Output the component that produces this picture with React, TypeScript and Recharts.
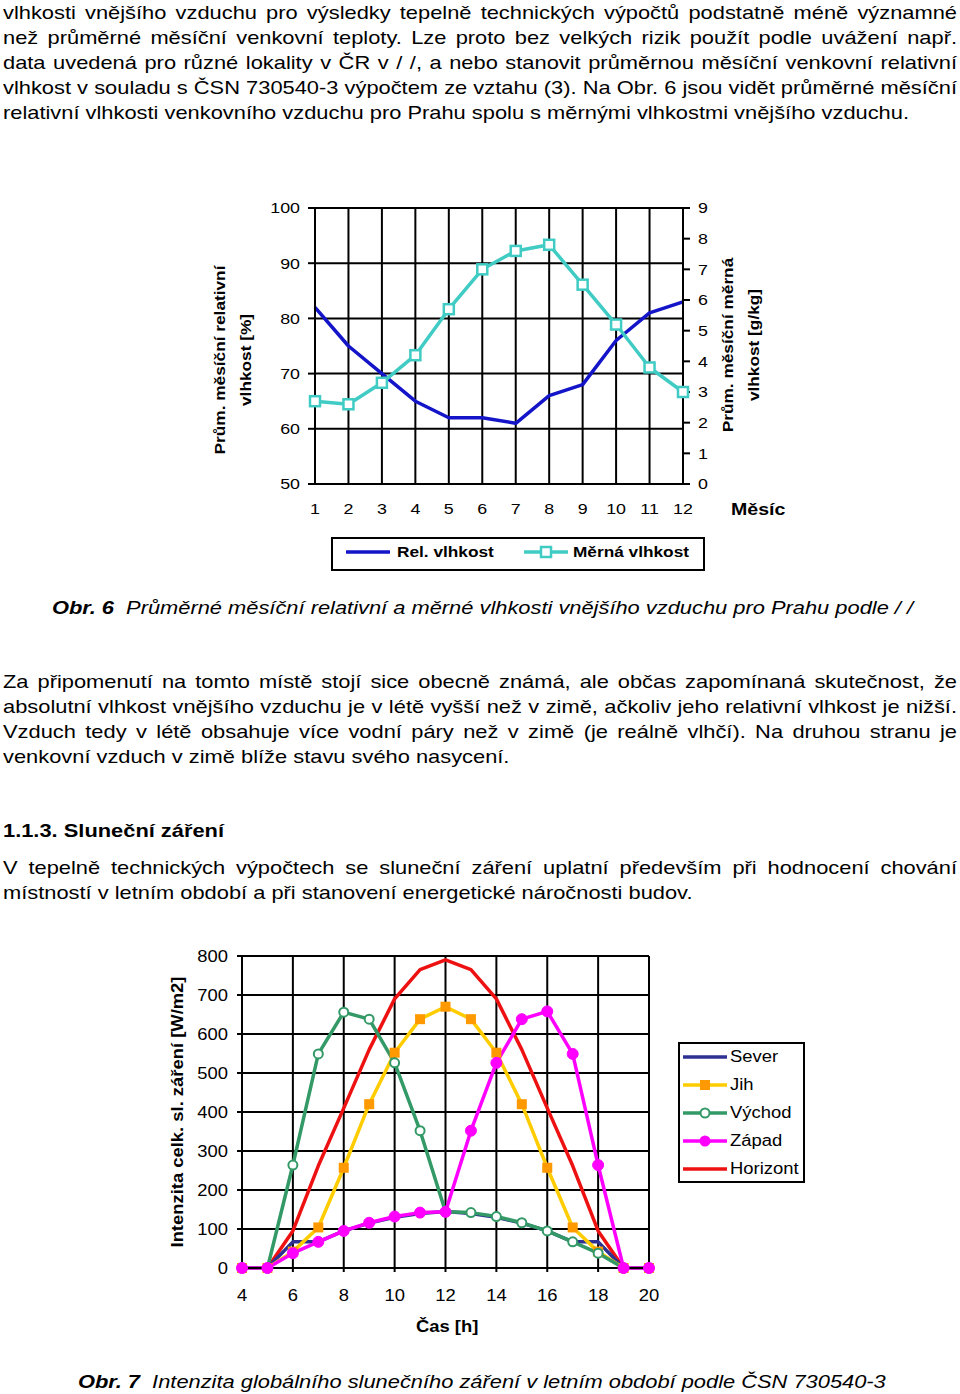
import React from 'react';
import { LineChart, Line, XAxis, YAxis, CartesianGrid } from 'recharts';

const FONT = '"Liberation Sans", Arial, Helvetica, sans-serif';
const S = 1.15; // horizontal stretch of the glyphs seen in the reference

// ---------- Obr. 6 data ----------
const months = [1, 2, 3, 4, 5, 6, 7, 8, 9, 10, 11, 12];
const relHumidity = [82, 75, 70, 65, 62, 62, 61, 66, 68, 76, 81, 83];
const specHumidity = [2.7, 2.6, 3.3, 4.2, 5.7, 7.0, 7.6, 7.8, 6.5, 5.2, 3.8, 3.0];
const relMinorTicks = [50, 52, 54, 56, 58, 60, 62, 64, 66, 68, 70, 72, 74, 76, 78, 80, 82, 84, 86, 88, 90, 92, 94, 96, 98, 100];
const relTicks = [50, 60, 70, 80, 90, 100];
const specTicks = [0, 1, 2, 3, 4, 5, 6, 7, 8, 9];

// ---------- Obr. 7 data ----------
const hours = [4, 5, 6, 7, 8, 9, 10, 11, 12, 13, 14, 15, 16, 17, 18, 19, 20];
const sever = [0, 0, 67, 67, 95, 115, 130, 140, 145, 140, 130, 115, 95, 67, 67, 0, 0];
const jih = [0, 0, 42, 104, 257, 420, 552, 638, 670, 638, 552, 420, 257, 104, 42, 0, 0];
const vychod = [0, 0, 264, 549, 656, 638, 526, 352, 144, 142, 132, 116, 95, 67, 38, 0, 0];
const zapad = [0, 0, 38, 67, 95, 116, 132, 142, 144, 352, 526, 638, 658, 549, 264, 0, 0];
const horizont = [0, 0, 95, 262, 410, 560, 690, 765, 790, 765, 690, 560, 410, 262, 95, 0, 0];
const hourTicks = [4, 6, 8, 10, 12, 14, 16, 18, 20];
const irrTicks = [0, 100, 200, 300, 400, 500, 600, 700, 800];

const topData = months.map((m, i) => ({ month: m, rel: relHumidity[i], spec: specHumidity[i] }));
const bottomData = hours.map((h, i) => ({
  hour: h,
  sever: sever[i],
  jih: jih[i],
  vychod: vychod[i],
  zapad: zapad[i],
  horizont: horizont[i],
}));

const C = {
  rel: '#1414C8',
  spec: '#40CCC4',
  sever: '#2E3192',
  jihLine: '#FFCC00',
  jihMark: '#FF9900',
  vychod: '#339966',
  zapad: '#FF00FF',
  horizont: '#EE1111',
};

// ---------- text helpers ----------
const SText = ({ x, y, anchor = 'middle', size, bold = false, children }: any) => (
  <text
    x={0}
    y={0}
    dy="0.35em"
    transform={`translate(${x},${y}) scale(${S},1)`}
    textAnchor={anchor}
    fontFamily={FONT}
    fontSize={size}
    fontWeight={bold ? 'bold' : 'normal'}
    fill="#000"
  >
    {children}
  </text>
);

// one line of body text; y = baseline
const TLine = ({ y, x = 3, w = 954, justify = false, size = 19, bold = false, italic = false, children }: any) => (
  <div
    style={{
      position: 'absolute',
      left: x,
      top: y - 17.5,
      width: w / S,
      height: 25,
      lineHeight: '25px',
      fontFamily: FONT,
      fontSize: size,
      fontWeight: bold ? 'bold' : 'normal',
      fontStyle: italic ? 'italic' : 'normal',
      textAlign: justify ? 'justify' : 'left',
      textAlignLast: justify ? 'justify' : 'left',
      transform: `scaleX(${S})`,
      transformOrigin: 'left top',
      color: '#000',
      whiteSpace: justify ? 'normal' : 'nowrap',
    } as React.CSSProperties}
  >
    {children}
  </div>
);

// rotated title, centered at (cx, cy)
const VText = ({ cx, cy, size, children }: any) => (
  <div
    style={{
      position: 'absolute',
      left: cx,
      top: cy,
      transform: `translate(-50%,-50%) rotate(-90deg) scaleX(${S})`,
      fontFamily: FONT,
      fontSize: size,
      fontWeight: 'bold',
      whiteSpace: 'nowrap',
      lineHeight: 1,
      color: '#000',
    }}
  >
    {children}
  </div>
);

const HText = ({ x, cy, size, bold = false, children }: any) => (
  <div
    style={{
      position: 'absolute',
      left: x,
      top: cy - size * 0.6,
      fontFamily: FONT,
      fontSize: size,
      fontWeight: bold ? 'bold' : 'normal',
      lineHeight: `${size * 1.15}px`,
      whiteSpace: 'nowrap',
      transform: `scaleX(${S})`,
      transformOrigin: 'left center',
      color: '#000',
    }}
  >
    {children}
  </div>
);

// ---------- ticks ----------
const RelTick = (p: any) => {
  const { x, y, payload } = p;
  return (
    <g>
      <line x1={x - 7} x2={x} y1={y} y2={y} stroke="#000" strokeWidth={2} />
      <SText x={x - 15} y={y} anchor="end" size={15.5}>
        {payload.value}
      </SText>
    </g>
  );
};

const RelMinorTick = (p: any) => (
  <line x1={p.x} x2={p.x + 5} y1={p.y} y2={p.y} stroke="#000" strokeWidth={2} />
);

const SpecTick = (p: any) => (
  <SText x={p.x + 8} y={p.y} anchor="start" size={15.5}>
    {p.payload.value}
  </SText>
);

const MonthTick = (p: any) => (
  <SText x={p.x} y={p.y + 25} size={15.5}>
    {p.payload.value}
  </SText>
);

const HourTick = (p: any) => (
  <SText x={p.x} y={p.y + 23} size={16}>
    {p.payload.value}
  </SText>
);

const IrrTick = (p: any) => (
  <SText x={p.x - 9} y={p.y} anchor="end" size={16}>
    {p.payload.value}
  </SText>
);

const squareDot = (fill: string, stroke: string, size: number, sw: number) => (p: any) => {
  const k = `sq-${p.index}`;
  if (p.cx == null || p.cy == null) return <g key={k} />;
  return (
    <rect
      key={k}
      x={p.cx - size / 2}
      y={p.cy - size / 2}
      width={size}
      height={size}
      fill={fill}
      stroke={stroke}
      strokeWidth={sw}
    />
  );
};

// ---------- charts ----------
const HumidityChart = () => (
  <div style={{ position: 'absolute', left: 190, top: 190 }}>
    <LineChart width={610} height={340} data={topData} margin={{ top: 18, right: 0, bottom: 0, left: 0 }}>
      <CartesianGrid yAxisId="left" stroke="#000" strokeWidth={2} />
      <XAxis
        dataKey="month"
        type="number"
        domain={[1, 12]}
        ticks={months}
        interval={0}
        height={46}
        tickLine={false}
        tickSize={0}
        tickMargin={0}
        axisLine={{ stroke: '#000', strokeWidth: 2 }}
        tick={<MonthTick />}
      />
      <YAxis
        yAxisId="minor"
        orientation="left"
        width={0}
        domain={[50, 100]}
        ticks={relMinorTicks}
        interval={0}
        type="number"
        tickLine={false}
        tickSize={0}
        tickMargin={0}
        axisLine={false}
        tick={<RelMinorTick />}
      />
      <YAxis
        yAxisId="left"
        orientation="left"
        width={125}
        domain={[50, 100]}
        ticks={relTicks}
        interval={0}
        type="number"
        tickLine={false}
        tickSize={0}
        tickMargin={0}
        axisLine={{ stroke: '#000', strokeWidth: 2 }}
        tick={<RelTick />}
      />
      <YAxis
        yAxisId="right"
        orientation="right"
        width={117}
        domain={[0, 9]}
        ticks={specTicks}
        interval={0}
        type="number"
        tickSize={7}
        tickMargin={0}
        tickLine={{ stroke: '#000', strokeWidth: 2 }}
        axisLine={{ stroke: '#000', strokeWidth: 2 }}
        tick={<SpecTick />}
      />
      <Line
        yAxisId="left"
        dataKey="rel"
        stroke={C.rel}
        strokeWidth={3.5}
        dot={false}
        isAnimationActive={false}
        strokeLinejoin="round"
      />
      <Line
        yAxisId="right"
        dataKey="spec"
        stroke={C.spec}
        strokeWidth={3.5}
        dot={squareDot('#fff', C.spec, 10, 2.5)}
        isAnimationActive={false}
        strokeLinejoin="round"
      />
    </LineChart>
  </div>
);

const SolarChart = () => (
  <div style={{ position: 'absolute', left: 150, top: 940 }}>
    <LineChart width={540} height={380} data={bottomData} margin={{ top: 16, right: 41, bottom: 0, left: 0 }}>
      <CartesianGrid stroke="#000" strokeWidth={2} />
      <XAxis
        dataKey="hour"
        type="number"
        domain={[4, 20]}
        ticks={hourTicks}
        interval={0}
        height={52}
        tickSize={4}
        tickMargin={0}
        tickLine={{ stroke: '#000', strokeWidth: 2 }}
        axisLine={{ stroke: '#000', strokeWidth: 2 }}
        tick={<HourTick />}
      />
      <YAxis
        width={92}
        domain={[0, 800]}
        ticks={irrTicks}
        interval={0}
        type="number"
        tickSize={5}
        tickMargin={0}
        tickLine={{ stroke: '#000', strokeWidth: 2 }}
        axisLine={{ stroke: '#000', strokeWidth: 2 }}
        tick={<IrrTick />}
      />
      <Line dataKey="horizont" stroke={C.horizont} strokeWidth={3.5} dot={false} isAnimationActive={false} strokeLinejoin="round" />
      <Line dataKey="sever" stroke={C.sever} strokeWidth={3.5} dot={false} isAnimationActive={false} strokeLinejoin="round" />
      <Line
        dataKey="jih"
        stroke={C.jihLine}
        strokeWidth={3.5}
        dot={squareDot(C.jihMark, 'none', 10, 0)}
        isAnimationActive={false}
        strokeLinejoin="round"
      />
      <Line
        dataKey="vychod"
        stroke={C.vychod}
        strokeWidth={3.5}
        dot={{ r: 4.5, fill: '#fff', stroke: C.vychod, strokeWidth: 2 }}
        isAnimationActive={false}
        strokeLinejoin="round"
      />
      <Line
        dataKey="zapad"
        stroke={C.zapad}
        strokeWidth={3.5}
        dot={{ r: 5.5, fill: C.zapad, stroke: C.zapad, strokeWidth: 1 }}
        isAnimationActive={false}
        strokeLinejoin="round"
      />
    </LineChart>
  </div>
);

const LegendSwatch = ({ color, marker, lineColor }: any) => (
  <svg width={46} height={14} style={{ position: 'absolute', left: 0, top: -7 }}>
    <line x1={1} x2={45} y1={7} y2={7} stroke={lineColor || color} strokeWidth={3.5} />
    {marker === 'square' && <rect x={18} y={2} width={10} height={10} fill={color} />}
    {marker === 'squareOpen' && <rect x={18} y={2} width={10} height={10} fill="#fff" stroke={color} strokeWidth={2.5} />}
    {marker === 'circleOpen' && <circle cx={23} cy={7} r={4.5} fill="#fff" stroke={color} strokeWidth={2} />}
    {marker === 'circle' && <circle cx={23} cy={7} r={5.5} fill={color} />}
  </svg>
);

const solarLegend = [
  { name: 'Sever', color: C.sever, marker: 'none' },
  { name: 'Jih', color: C.jihMark, lineColor: C.jihLine, marker: 'square' },
  { name: 'Východ', color: C.vychod, marker: 'circleOpen' },
  { name: 'Západ', color: C.zapad, marker: 'circle' },
  { name: 'Horizont', color: C.horizont, marker: 'none' },
];

export default function App() {
  return (
    <div
      style={{
        position: 'absolute',
        left: 0,
        top: 0,
        width: 960,
        height: 1394,
        background: '#fff',
        overflow: 'hidden',
        fontFamily: FONT,
      }}
    >
      {/* paragraph 1 */}
      <TLine y={17} justify>vlhkosti vnějšího vzduchu pro výsledky tepelně technických výpočtů podstatně méně významné</TLine>
      <TLine y={42} justify>než průměrné měsíční venkovní teploty. Lze proto bez velkých rizik použít podle uvážení např.</TLine>
      <TLine y={67} justify>data uvedená pro různé lokality v ČR v / /, a nebo stanovit průměrnou měsíční venkovní relativní</TLine>
      <TLine y={92} justify>vlhkost v souladu s ČSN 730540-3 výpočtem ze vztahu (3). Na Obr. 6 jsou vidět průměrné měsíční</TLine>
      <TLine y={117}>relativní vlhkosti venkovního vzduchu pro Prahu spolu s měrnými vlhkostmi vnějšího vzduchu.</TLine>

      {/* Obr. 6 */}
      <HumidityChart />
      <VText cx={219} cy={360} size={15}>Prům. měsíční relativní</VText>
      <VText cx={245} cy={360} size={15}>vlhkost [%]</VText>
      <VText cx={727} cy={345} size={15}>Prům. měsíční měrná</VText>
      <VText cx={753} cy={345} size={15}>vlhkost [g/kg]</VText>
      <HText x={731} cy={510} size={17} bold>Měsíc</HText>
      <div
        style={{
          position: 'absolute',
          left: 331,
          top: 537,
          width: 374,
          height: 34,
          border: '2px solid #000',
          boxSizing: 'border-box',
        }}
      />
      <div style={{ position: 'absolute', left: 345, top: 552 }}>
        <LegendSwatch color={C.rel} marker="none" />
      </div>
      <HText x={397} cy={552} size={15} bold>Rel. vlhkost</HText>
      <div style={{ position: 'absolute', left: 523, top: 552 }}>
        <LegendSwatch color={C.spec} marker="squareOpen" />
      </div>
      <HText x={573} cy={552} size={15} bold>Měrná vlhkost</HText>

      <TLine y={612} x={52} w={900}>
        <span style={{ fontWeight: 'bold', fontStyle: 'italic' }}>Obr. 6</span>
        <span style={{ fontStyle: 'italic' }}>{'\u00a0\u00a0'}Průměrné měsíční relativní a měrné vlhkosti vnějšího vzduchu pro Prahu podle / /</span>
      </TLine>

      {/* paragraph 2 */}
      <TLine y={686} justify>Za připomenutí na tomto místě stojí sice obecně známá, ale občas zapomínaná skutečnost, že</TLine>
      <TLine y={711} justify>absolutní vlhkost vnějšího vzduchu je v létě vyšší než v zimě, ačkoliv jeho relativní vlhkost je nižší.</TLine>
      <TLine y={736} justify>Vzduch tedy v létě obsahuje více vodní páry než v zimě (je reálně vlhčí). Na druhou stranu je</TLine>
      <TLine y={761}>venkovní vzduch v zimě blíže stavu svého nasycení.</TLine>

      <TLine y={835} bold>1.1.3. Sluneční záření</TLine>
      <TLine y={872} justify>V tepelně technických výpočtech se sluneční záření uplatní především při hodnocení chování</TLine>
      <TLine y={897}>místností v letním období a při stanovení energetické náročnosti budov.</TLine>

      {/* Obr. 7 */}
      <SolarChart />
      <VText cx={178} cy={1112} size={16}>Intenzita celk. sl. záření [W/m2]</VText>
      <HText x={416} cy={1328} size={16} bold>Čas [h]</HText>
      <div
        style={{
          position: 'absolute',
          left: 678,
          top: 1042,
          width: 127,
          height: 141,
          border: '2px solid #000',
          boxSizing: 'border-box',
        }}
      />
      {solarLegend.map((e, i) => (
        <React.Fragment key={e.name}>
          <div style={{ position: 'absolute', left: 682, top: 1057 + i * 28 }}>
            <LegendSwatch color={e.color} lineColor={(e as any).lineColor} marker={e.marker} />
          </div>
          <HText x={730} cy={1058 + i * 28} size={16}>{e.name}</HText>
        </React.Fragment>
      ))}

      <TLine y={1386} x={78} w={860}>
        <span style={{ fontWeight: 'bold', fontStyle: 'italic' }}>Obr. 7</span>
        <span style={{ fontStyle: 'italic' }}>{'\u00a0\u00a0'}Intenzita globálního slunečního záření v letním období podle ČSN 730540-3</span>
      </TLine>
    </div>
  );
}
